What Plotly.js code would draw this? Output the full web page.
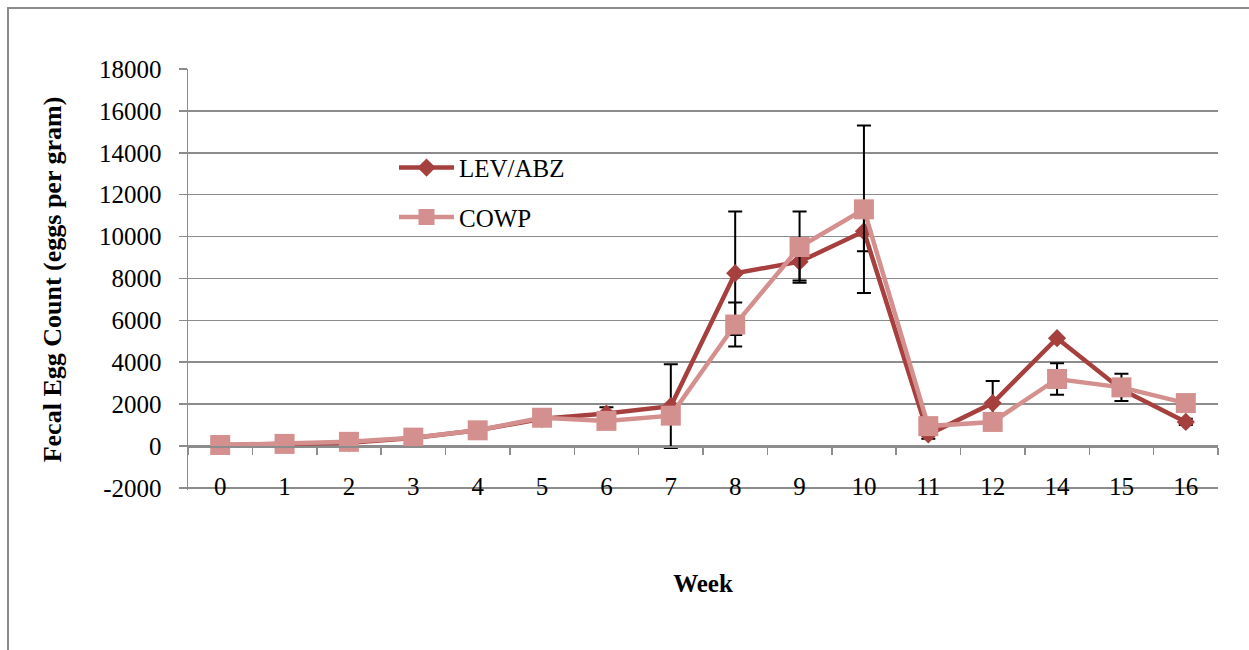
<!DOCTYPE html>
<html>
<head>
<meta charset="utf-8">
<script src="https://cdn.plot.ly/plotly-3.0.1.min.js"></script>
<style>
  html, body { margin: 0; padding: 0; width: 1249px; height: 650px; overflow: hidden; background: #fff; }
  #chart { position: absolute; left: 0; top: 0; width: 1249px; height: 650px; }
  #frame { position: absolute; left: 7px; top: 7px; width: 1300px; height: 700px; border: 2px solid #8c8c8c; pointer-events: none; }
</style>
</head>
<body>
<div id="chart"></div>
<div id="frame"></div>
<script>
const weeks = ['0','1','2','3','4','5','6','7','8','9','10','11','12','14','15','16'];
const levAbz = [50, 100, 150, 380, 750, 1300, 1550, 1900, 8250, 8800, 10250, 550, 2050, 5150, 2700, 1150];
const levAbzErr = [0, 0, 0, 0, 0, 0, 300, 2000, 2950, 900, 950, 200, 1050, 0, 250, 150];
const cowp = [50, 100, 200, 400, 750, 1350, 1200, 1450, 5800, 9500, 11300, 950, 1150, 3200, 2800, 2050];
const cowpErr = [0, 0, 0, 0, 0, 0, 200, 300, 1050, 1700, 4000, 200, 150, 750, 650, 200];
const yTicks = [-2000, 0, 2000, 4000, 6000, 8000, 10000, 12000, 14000, 16000, 18000];

const FONT = '"Liberation Serif", "Times New Roman", serif';
const GRID = '#8c8c8c';
const Y_MIN = -2100, Y_MAX = 18000;

const traces = [
  {
    x: weeks, y: levAbz, name: 'LEV/ABZ', type: 'scatter', mode: 'lines+markers',
    line: { color: '#A6403E', width: 4.5 },
    marker: { symbol: 'diamond', size: 14, color: '#A6403E' },
    error_y: { type: 'data', array: levAbzErr, visible: true, color: '#000', thickness: 2, width: 7 },
    legendgroup: 'a'
  },
  {
    x: weeks, y: cowp, name: 'COWP', type: 'scatter', mode: 'lines+markers',
    line: { color: '#D4908E', width: 4.5 },
    marker: { symbol: 'square', size: 20, color: '#D4908E' },
    error_y: { type: 'data', array: cowpErr, visible: true, color: '#000', thickness: 2, width: 7 },
    legendgroup: 'b'
  }
];

const layout = {
  width: 1249, height: 650,
  margin: { l: 188, r: 31, t: 69, b: 160 },
  paper_bgcolor: 'rgba(0,0,0,0)', plot_bgcolor: 'rgba(0,0,0,0)',
  font: { family: FONT, size: 25, color: '#000' },
  showlegend: true,
  legend: {
    x: 0.2, y: 0.82, xanchor: 'left', yanchor: 'top',
    bgcolor: 'rgba(0,0,0,0)', borderwidth: 0,
    font: { family: FONT, size: 25, color: '#000' },
    itemwidth: 55, traceorder: 'grouped', tracegroupgap: 14
  },
  xaxis: {
    type: 'category', categoryorder: 'array', categoryarray: weeks,
    range: [-0.5, weeks.length - 0.5],
    anchor: 'free', position: (0 - Y_MIN) / (Y_MAX - Y_MIN),
    showline: true, linecolor: GRID, linewidth: 1.5,
    showgrid: false, zeroline: false,
    ticks: 'outside', tickson: 'boundaries', ticklen: 7, tickcolor: GRID, tickwidth: 1.5,
    ticklabelstandoff: 17,
    tickfont: { family: FONT, size: 25, color: '#000' },
    title: { text: '<b>Week</b>', font: { family: FONT, size: 25, color: '#000' }, standoff: 76 }
  },
  yaxis: {
    range: [Y_MIN, Y_MAX], tickvals: yTicks, ticktext: yTicks.map(String),
    showline: true, linecolor: GRID, linewidth: 1.5,
    showgrid: true, gridcolor: GRID, gridwidth: 1.5,
    zeroline: false,
    ticks: 'outside', ticklen: 8, tickcolor: GRID, tickwidth: 1.5,
    ticklabelstandoff: 12,
    tickfont: { family: FONT, size: 25, color: '#000' },
    title: { text: '<b>Fecal Egg Count (eggs per gram)</b>', font: { family: FONT, size: 26, color: '#000' }, standoff: 30 }
  }
};

Plotly.newPlot('chart', traces, layout, { displayModeBar: false, staticPlot: true });
</script>
</body>
</html>
